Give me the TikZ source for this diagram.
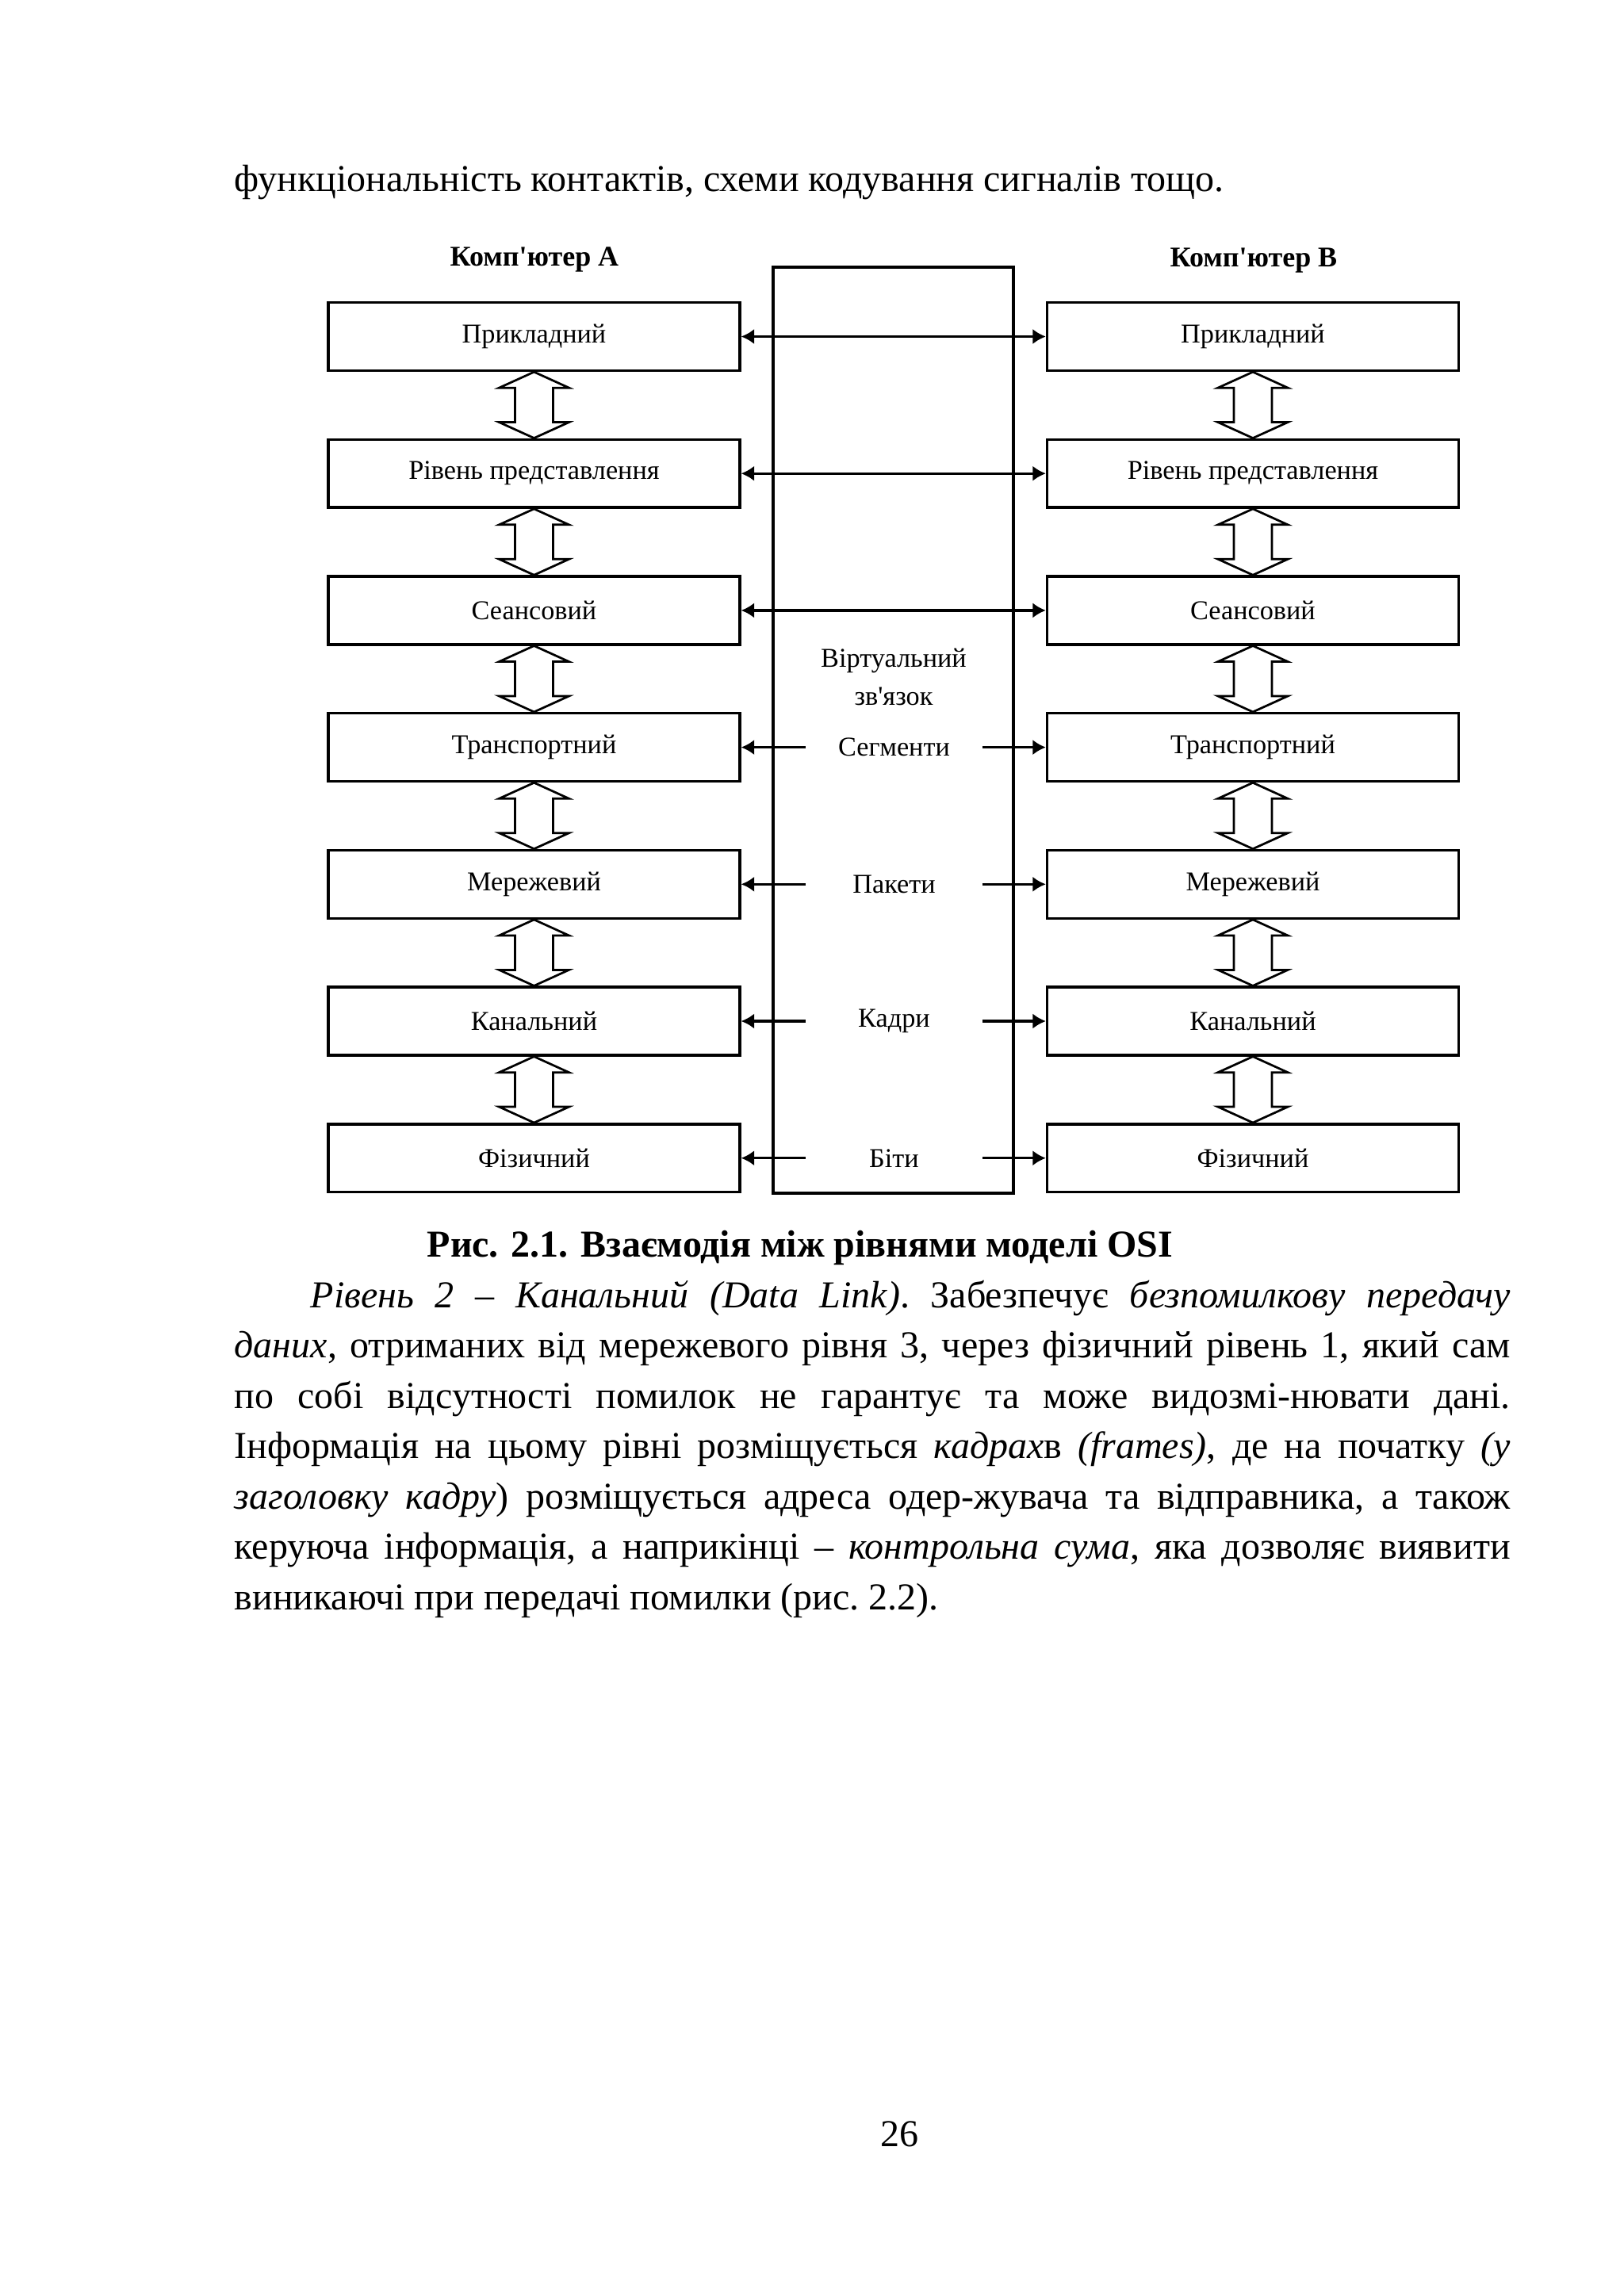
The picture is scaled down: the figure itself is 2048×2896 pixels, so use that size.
\documentclass[tikz,border=0pt]{standalone}
\usepackage{fontspec}
\setmainfont{Liberation Serif}[Ligatures=TeXOff]
\usetikzlibrary{calc,arrows.meta}

\begin{document}
\begin{tikzpicture}
  [x=0.10254mm,y=-0.10254mm,
   every node/.style={font=\fontsize{10}{14}\selectfont},
   layer/.style={draw,line width=1pt,minimum width=53.2mm,minimum height=8.8mm,inner sep=0pt},
   pdu/.style={inner sep=0pt,minimum width=22.7mm},
   title/.style={font=\fontsize{10.5}{12}\selectfont\bfseries},
   peer/.style={line width=1pt,{Latex[length=1.7mm,width=2mm]}-{Latex[length=1.7mm,width=2mm]}},
   half/.style={line width=1pt,-{Latex[length=1.7mm,width=2mm]}},
   updown/.style={line width=0.8pt,line join=miter},
   body/.style={font=\fontsize{14}{18.55}\selectfont,inner sep=0pt}]
  \fill[white] (0,0) rectangle (2048,2896);
  \useasboundingbox (0,0) rectangle (2048,2896);

  \node[body,anchor=base west] (prev) at (295,241) {функціональність контактів, схеми кодування сигналів тощо.};

  % middle channel
  \node[draw,line width=1pt,minimum width=31.07mm,minimum height=119.77mm,inner sep=0pt] (chan) at (1126.5,921) {};
  \node[align=center] (virt) at (1127,854) {Віртуальний\\зв'язок};

  % computer A
  \node[title] (compA) at (674,327) {Комп'ютер А};
  \node[layer] (a1) at (673.5,424.5) {Прикладний};
  \node[layer] (a2) at (673.5,597.2) {Рівень представлення};
  \node[layer] (a3) at (673.5,769.9) {Сеансовий};
  \node[layer] (a4) at (673.5,942.6) {Транспортний};
  \node[layer] (a5) at (673.5,1115.3) {Мережевий};
  \node[layer] (a6) at (673.5,1288) {Канальний};
  \node[layer] (a7) at (673.5,1460.7) {Фізичний};

  % computer B
  \node[title] (compB) at (1581,329) {Комп'ютер В};
  \node[layer] (b1) at (1580,424.5) {Прикладний};
  \node[layer] (b2) at (1580,597.2) {Рівень представлення};
  \node[layer] (b3) at (1580,769.9) {Сеансовий};
  \node[layer] (b4) at (1580,942.6) {Транспортний};
  \node[layer] (b5) at (1580,1115.3) {Мережевий};
  \node[layer] (b6) at (1580,1288) {Канальний};
  \node[layer] (b7) at (1580,1460.7) {Фізичний};

  \node[pdu] (s4) at (1127.5,942.6) {Сегменти};
  \node[pdu] (s5) at (1127.5,1115.3) {Пакети};
  \node[pdu] (s6) at (1127.5,1288) {Кадри};
  \node[pdu] (s7) at (1127.5,1460.7) {Біти};

  \foreach \i in {1,2,3}
    \draw[peer] (a\i) -- (b\i);
  \foreach \i in {4,5,6,7} {
    \draw[half] (s\i) -- (a\i);
    \draw[half] (s\i) -- (b\i);
  }

  \foreach \from/\to in {a1/a2,a2/a3,a3/a4,a4/a5,a5/a6,a6/a7,b1/b2,b2/b3,b3/b4,b4/b5,b5/b6,b6/b7}
    \draw[updown] (\from.south) -- ++(-44,20) -- ++(20,0) -- ($(\to.north)+(-24,-20)$) -- ++(-20,0)
      -- (\to.north) -- ++(44,-20) -- ++(-20,0) -- ($(\from.south)+(24,20)$) -- ++(20,0) -- cycle;

  \node[body,font={\fontsize{14}{18.55}\selectfont\bfseries},anchor=base west] (cap) at (538,1585) {Рис. 2.1. Взаємодія між рівнями моделі OSI};

  \node[body,anchor=base west,text width=165mm,align=justify] (para) at (295,1649)
    {\frenchspacing\hyphenpenalty=10000\exhyphenpenalty=10000\hspace*{9.85mm}\textit{Рівень 2 – Канальний (Data Link)}. Забезпечує \textit{безпомилкову передачу}\linebreak
     \textit{даних}, отриманих від мережевого рівня 3, через фізичний рівень 1, який сам\linebreak
     по собі відсутності помилок не гарантує та може видозмі-нювати дані.\linebreak
     Інформація на цьому рівні розміщується \textit{кадрах}в \textit{(frames)}, де на початку \textit{(у}\linebreak
     \textit{заголовку кадру}) розміщується адреса одер-жувача та відправника, а також\linebreak
     керуюча інформація, а наприкінці – \textit{контрольна сума}, яка дозволяє виявити\linebreak
     виникаючі при передачі помилки (рис. 2.2).};

  \node[body,anchor=base] (pnum) at (1134.5,2707) {26};
\end{tikzpicture}
\end{document}
